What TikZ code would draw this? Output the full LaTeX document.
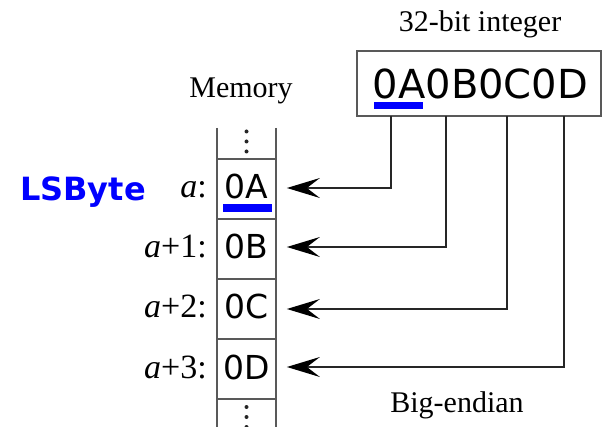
\documentclass[tikz,border=0pt]{standalone}
\usepackage{fontspec}
\setmainfont{Liberation Serif}
\newfontfamily\hexfont{DejaVu Sans}
\usetikzlibrary{arrows.meta}
\definecolor{markblue}{RGB}{0,0,255}
\begin{document}
\begin{tikzpicture}[x=1pt,y=-1pt,
  frame/.style={draw=black!65, line width=1.8pt},
  conn/.style={draw=black!85, line width=1.6pt, -{Stealth[length=33pt,width=20pt,inset=13pt,color=black]}},
  cellbox/.style={frame, minimum width=59pt, minimum height=60pt, inner sep=0pt},
  hextext/.style={font=\hexfont\fontsize{33}{33}\selectfont, anchor=base, inner sep=0pt},
  bigtext/.style={font=\hexfont\fontsize{40}{40}\selectfont, anchor=base, inner sep=0pt},
  lab/.style={font=\fontsize{30}{30}\selectfont, anchor=base, inner sep=0pt},
  addr/.style={font=\fontsize{34}{34}\selectfont, anchor=base east, inner sep=0pt},
  blueline/.style={fill=markblue},
  dotmark/.style={fill=black!85, circle, inner sep=0pt, minimum size=4pt}
]
\useasboundingbox (0,0) rectangle (602,427);

% titles
\node[lab] (title) at (480,32) {32-bit integer};
\node[lab] (memlabel) at (241,98) {Memory};
\node[lab] (endian) at (457,412) {Big-endian};

% integer box
\node[frame, minimum width=244pt, minimum height=65pt, inner sep=0pt] (intbox) at (479,83.5) {};
\node[bigtext] (inttext) at (480.5,99) {0A0B0C0D};
\fill[blueline] (374,102) rectangle (423,109);

% memory column
\draw[frame] (217,128) -- (217,427);
\draw[frame] (276,128) -- (276,427);
\node[cellbox] (c1) at (246.5,189) {};
\node[cellbox] (c2) at (246.5,249) {};
\node[cellbox] (c3) at (246.5,309) {};
\node[cellbox] (c4) at (246.5,369) {};
\node[hextext] (t1) at (246.5,199) {0A};
\node[hextext] (t2) at (246.5,259) {0B};
\node[hextext] (t3) at (246.5,319) {0C};
\node[hextext] (t4) at (246.5,379) {0D};
\fill[blueline] (223,204) rectangle (272,212);

% dots
\node[dotmark] (d1) at (246.5,131.5) {};
\node[dotmark] (d2) at (246.5,141.5) {};
\node[dotmark] (d3) at (246.5,151.5) {};
\node[dotmark] (d4) at (246.5,407) {};
\node[dotmark] (d5) at (246.5,417) {};
\node[dotmark] (d6) at (246.5,427) {};

% addresses
\node[addr] (a1) at (207,198) {\textit{a}:};
\node[addr] (a2) at (207,258) {\textit{a}+1:};
\node[addr] (a3) at (207,318) {\textit{a}+2:};
\node[addr] (a4) at (207,378) {\textit{a}+3:};

% LSByte
\node[font=\hexfont\bfseries\fontsize{32}{32}\selectfont, text=markblue, anchor=base, inner sep=0pt] (lsb) at (83,201) {LSByte};

% connectors
\coordinate (b1) at (391,116);
\coordinate (b2) at (446,116);
\coordinate (b3) at (507,116);
\coordinate (b4) at (564,116);
\draw[conn] (b1) |- ([xshift=10pt,yshift=1pt]c1.east);
\draw[conn] (b2) |- ([xshift=10pt,yshift=2pt]c2.east);
\draw[conn] (b3) |- ([xshift=10pt]c3.east);
\draw[conn] (b4) |- ([xshift=10pt,yshift=2pt]c4.east);
\end{tikzpicture}
\end{document}
